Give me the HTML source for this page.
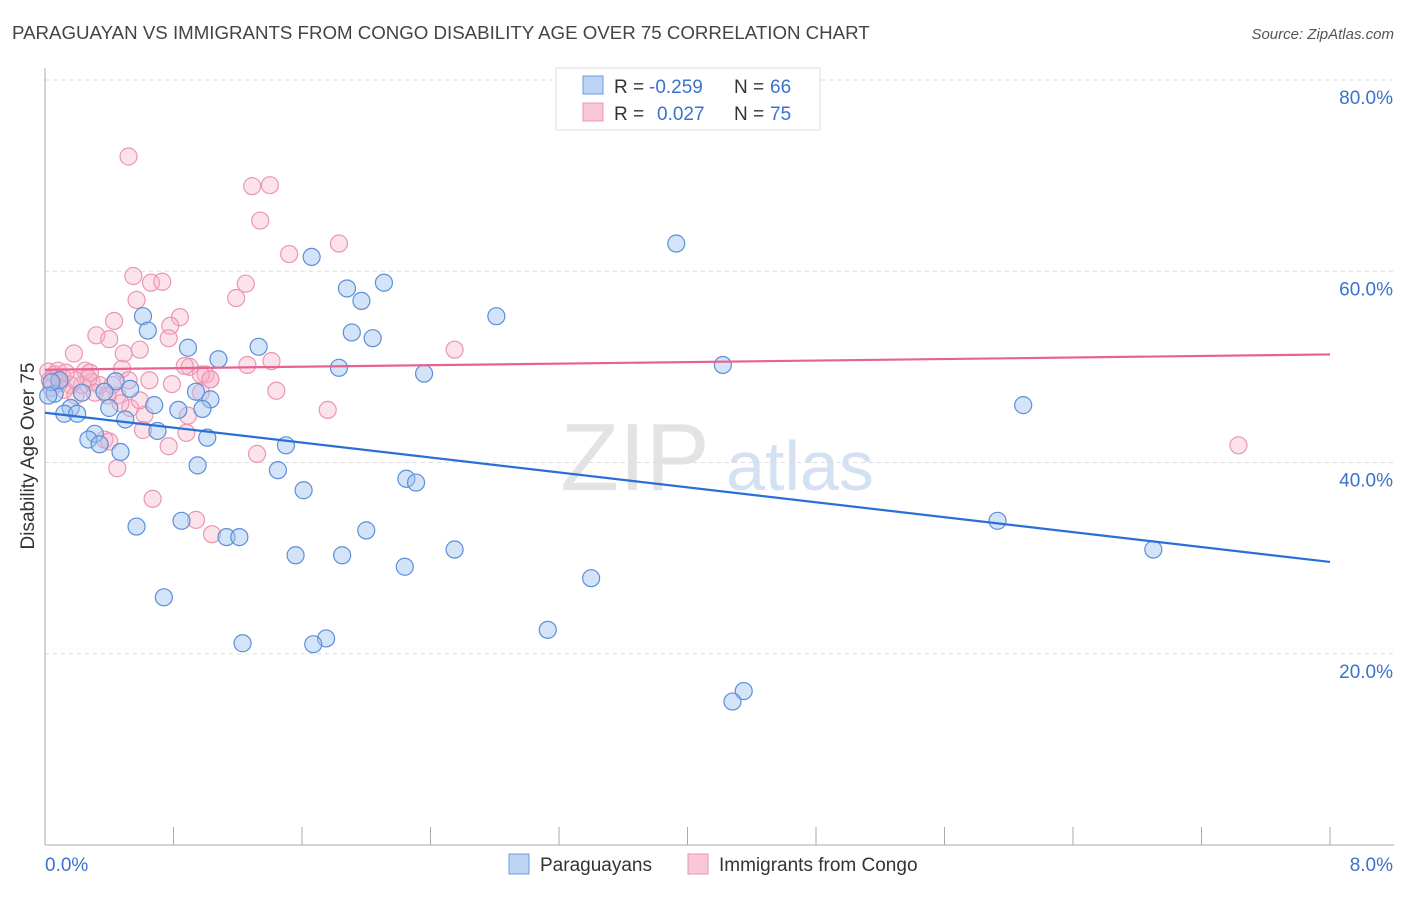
<!DOCTYPE html>
<html><head><meta charset="utf-8"><style>
body{margin:0;background:#fff;font-family:"Liberation Sans",sans-serif;}
svg text{font-family:"Liberation Sans",sans-serif;}
</style></head><body>
<svg id="chart" width="1406" height="892" xmlns="http://www.w3.org/2000/svg">
<text x="12" y="39" font-size="18.7" fill="#444">PARAGUAYAN VS IMMIGRANTS FROM CONGO DISABILITY AGE OVER 75 CORRELATION CHART</text>
<text x="1394" y="39" font-size="15" fill="#555" text-anchor="end" font-style="italic">Source: ZipAtlas.com</text>
<text transform="translate(34,456) rotate(-90)" font-size="19" fill="#333" text-anchor="middle">Disability Age Over 75</text>
<g>
<text x="635" y="490" font-size="96" fill="#ddd" font-family="Liberation Serif" text-anchor="middle" opacity="0.8">ZIP</text>
<text x="800" y="490" font-size="70" fill="#c9daf0" text-anchor="middle" opacity="0.8">atlas</text>
</g>
<g id="grid"></g><g id="axes"></g><g id="pts"></g><g id="lines"></g>
<g>
<rect x="556" y="68" width="264" height="62" fill="#fff" stroke="#ddd"/>
<rect x="583" y="76" width="20" height="18" fill="#bcd4f4" stroke="#6b9be0"/>
<rect x="583" y="103" width="20" height="18" fill="#f9c8d6" stroke="#eb95b0"/>
<text x="614" y="93" font-size="19" fill="#333">R =</text>
<text x="649" y="93" font-size="19" fill="#3a72cc">-0.259</text>
<text x="734" y="93" font-size="19" fill="#333">N =</text>
<text x="770" y="93" font-size="19" fill="#3a72cc">66</text>
<text x="614" y="120" font-size="19" fill="#333">R =</text>
<text x="657" y="120" font-size="19" fill="#3a72cc">0.027</text>
<text x="734" y="120" font-size="19" fill="#333">N =</text>
<text x="770" y="120" font-size="19" fill="#3a72cc">75</text>
</g>
<g>
<rect x="509" y="854" width="20" height="20" fill="#bcd4f4" stroke="#6b9be0"/>
<text x="540" y="871" font-size="19" fill="#333">Paraguayans</text>
<rect x="688" y="854" width="20" height="20" fill="#f9c8d6" stroke="#eb95b0"/>
<text x="719" y="871" font-size="19" fill="#333">Immigrants from Congo</text>
</g>
</svg>
<script>
const yTicks=[20,40,60,80];
const yTickLabels=["20.0%","40.0%","60.0%","80.0%"];
const xTickLabels=["0.0%","8.0%"];
const blueX=[1.66,3.93,2.11,1.88,1.97,2.81,0.61,0.64,1.91,2.04,1.33,0.89,1.08,1.83,2.36,4.22,0.44,0.53,0.37,0.23,0.94,1.03,0.06,0.98,0.40,0.68,0.83,0.16,0.12,0.20,0.50,0.70,0.31,0.27,0.34,1.01,1.50,0.47,0.95,1.45,6.09,2.25,2.31,1.61,0.57,0.85,2.00,1.13,1.21,5.93,2.55,1.56,1.85,6.90,2.24,3.40,0.74,3.13,1.23,1.75,1.67,4.35,4.28,0.09,0.04,0.02];
const blueY=[61.5,62.9,58.8,58.2,56.9,55.3,55.3,53.8,53.6,53.0,52.1,52.0,50.8,49.9,49.3,50.2,48.5,47.7,47.4,47.3,47.4,46.6,47.2,45.6,45.7,46.0,45.5,45.7,45.1,45.1,44.5,43.3,43.0,42.4,41.9,42.6,41.8,41.1,39.7,39.2,46.0,38.3,37.9,37.1,33.3,33.9,32.9,32.2,32.2,33.9,30.9,30.3,30.3,30.9,29.1,27.9,25.9,22.5,21.1,21.6,21.0,16.1,15.0,48.6,48.4,47.0];
const pinkX=[0.52,1.29,1.40,1.34,1.52,1.83,0.55,0.66,0.73,1.25,0.57,1.19,0.84,0.43,0.78,0.32,0.77,0.40,0.59,0.18,0.49,2.55,1.41,1.26,0.90,0.87,0.48,0.25,1.00,1.03,0.97,0.65,0.79,0.29,0.23,0.11,0.06,0.02,0.16,0.34,0.97,1.44,0.45,0.53,0.47,0.62,0.89,1.76,0.88,0.61,0.77,0.37,0.40,0.45,1.32,0.67,0.94,1.04,7.43,0.09,0.12,0.27,0.31,0.19,0.04,0.08,0.42,0.52,0.39,0.59,0.19,0.13,0.03,1.03,0.28];
const pinkY=[72.0,68.9,69.0,65.3,61.8,62.9,59.5,58.8,58.9,58.7,57.0,57.2,55.2,54.8,54.3,53.3,53.0,52.9,51.8,51.4,51.4,51.8,50.6,50.2,50.0,50.1,49.8,49.6,49.2,48.7,49.2,48.6,48.2,48.4,48.1,48.9,49.2,49.5,48.1,48.1,47.3,47.5,47.0,45.7,46.2,45.0,44.9,45.5,43.1,43.4,41.7,42.4,42.2,39.4,40.9,36.2,34.0,32.5,41.8,48.3,47.6,48.8,47.3,47.0,47.8,49.6,48.1,48.6,47.0,46.5,48.6,49.4,48.6,48.7,49.4];
const blueTrend=[45.2,29.6];
const pinkTrend=[49.7,51.3];
const X0=45,X1=1330,Y0=845,Y1=80;
const sx=v=>X0+v/8*(X1-X0);
const sy=v=>Y0-v/80*(Y0-Y1);
const NS="http://www.w3.org/2000/svg";
function mk(tag,attrs,parent){const e=document.createElementNS(NS,tag);for(const k in attrs)e.setAttribute(k,attrs[k]);document.getElementById(parent).appendChild(e);return e;}
yTicks.forEach((t,i)=>{
 const g=mk('line',{x1:X0,x2:1394,y1:sy(t),y2:sy(t),stroke:'#ddd','stroke-dasharray':'4,4'},'grid');
 
 
 const l=mk('text',{x:1393,y:sy(t)+24,'font-size':19,fill:'#3a72cc','text-anchor':'end'},'grid');
 l.textContent=yTickLabels[i];
 
 
});
const ax=mk('line',{x1:X0,x2:X0,y1:68,y2:Y0,stroke:'#aaa'},'axes');


const bx=mk('line',{x1:X0,x2:1394,y1:Y0,y2:Y0,stroke:'#aaa'},'axes');


for(let i=0;i<=10;i++){const x=sx(i*0.8);const t=mk('line',{x1:x,x2:x,y1:Y0,y2:Y0-18,stroke:'#aaa'},'axes');
 
 }
[0,8].forEach((v,i)=>{const t=mk('text',{x:i?1393:45,y:871,'font-size':19,fill:'#3a72cc','text-anchor':i?'end':'start'},'axes');t.textContent=xTickLabels[i];
 
 });
pinkX.forEach((v,i)=>{const c=mk('circle',{cx:sx(v),cy:sy(pinkY[i]),r:8.5,fill:'rgba(246,175,198,0.35)',stroke:'#ec95b1','stroke-width':1.2},'pts');
 
 });
blueX.forEach((v,i)=>{const c=mk('circle',{cx:sx(v),cy:sy(blueY[i]),r:8.5,fill:'rgba(160,196,240,0.45)',stroke:'#5b8fd9','stroke-width':1.2},'pts');
 
 });
const bl=mk('line',{x1:sx(0),y1:sy(blueTrend[0]),x2:sx(8),y2:sy(blueTrend[1]),stroke:'#2a6fd6','stroke-width':2.2},'lines');


const pl=mk('line',{x1:sx(0),y1:sy(pinkTrend[0]),x2:sx(8),y2:sy(pinkTrend[1]),stroke:'#e8628e','stroke-width':2.2},'lines');


</script>
</body></html>
